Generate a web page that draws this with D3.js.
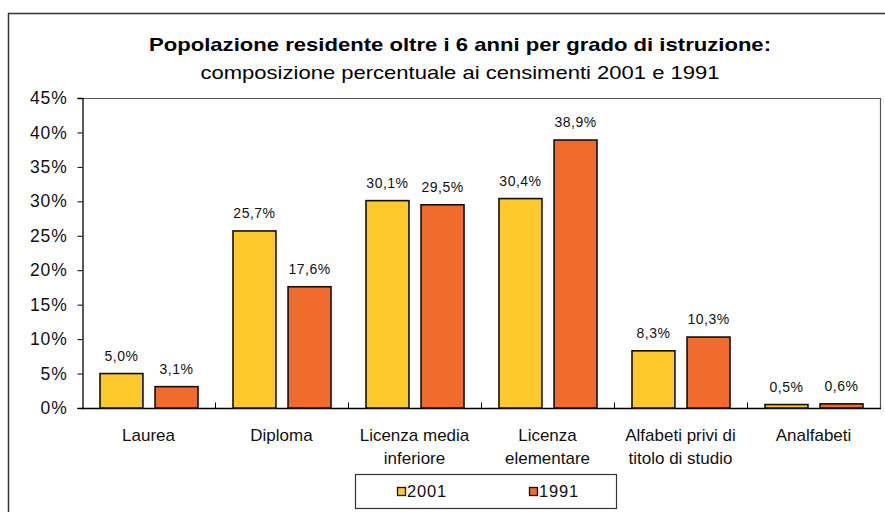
<!DOCTYPE html>
<html>
<head>
<meta charset="utf-8">
<script src="https://cdn.jsdelivr.net/npm/d3@7"></script>
<style>
body { margin:0; background:#fff; }
svg { font-family: "Liberation Sans", Arial, Helvetica, sans-serif; }
</style>
</head>
<body>
<svg id="graph"></svg>
<script>
// data
var categories = [["Laurea"], ["Diploma"], ["Licenza media", "inferiore"], ["Licenza", "elementare"], ["Alfabeti privi di", "titolo di studio"], ["Analfabeti"]]
var years = ["2001", "1991"]
var values2001 = [5.0, 25.7, 30.1, 30.4, 8.3, 0.5]
var values1991 = [3.1, 17.6, 29.5, 38.9, 10.3, 0.6]
var yTicks = [0, 5, 10, 15, 20, 25, 30, 35, 40, 45]
var colors = ["#FDC92C", "#F16B2E"]

var screen = {width:885, height:512}
var plot = {left:82, right:880, top:98, bottom:408}

var svg = d3.select("#graph")
    .attr("width", screen.width)
    .attr("height", screen.height)

// outer frame
svg.append("rect")
    .attr("x", 8.5).attr("y", 13.5)
    .attr("width", 1000).attr("height", 600)
    .attr("fill", "none")
    .attr("stroke", "#333")
    .attr("stroke-width", 1.5)

svg.append("text")
    .attr("x", 460).attr("y", 51)
    .attr("text-anchor", "middle")
    .attr("font-size", 19)
    .attr("font-weight", "bold")
    .attr("textLength", 622)
    .attr("lengthAdjust", "spacingAndGlyphs")
    .text("Popolazione residente oltre i 6 anni per grado di istruzione:")

svg.append("text")
    .attr("x", 460).attr("y", 79)
    .attr("text-anchor", "middle")
    .attr("font-size", 19)
    .attr("textLength", 519)
    .attr("lengthAdjust", "spacingAndGlyphs")
    .text("composizione percentuale ai censimenti 2001 e 1991")

var xscale = d3.scaleBand()
    .domain(d3.range(categories.length))
    .range([plot.left, plot.right])
    .paddingInner(0).paddingOuter(0)

var inner = d3.scaleBand()
    .domain(years)
    .range([18, xscale.bandwidth() - 17])
    .paddingInner(0.22)

var yscale = d3.scaleLinear()
    .domain([0, 45])
    .range([plot.bottom, plot.top])

// plot frame (top and right)
svg.append("path")
    .attr("d", "M" + plot.left + "," + (plot.top + 0.5) + "H" + (plot.right + 0.5) + "V" + plot.bottom)
    .attr("fill", "none")
    .attr("stroke", "#555")
    .attr("stroke-width", 1.2)

// y axis
var yAxis = svg.append("g")
    .attr("transform", "translate(" + (plot.left + 0.5) + ",0)")
    .call(d3.axisLeft(yscale).tickValues(yTicks).tickSize(5).tickPadding(10)
        .tickFormat(function(d){ return d + "%" }))
yAxis.select(".domain").attr("stroke", "#000").attr("stroke-width", 1.3)
yAxis.selectAll("line").attr("stroke", "#000")
yAxis.selectAll("text").attr("font-size", 17.5).attr("fill", "#111")
    .attr("letter-spacing", 0.8)
    .attr("font-family", "Liberation Sans, Arial, sans-serif")

// x axis with category separators pointing up
var xAxis = svg.append("g")
    .attr("transform", "translate(0," + (plot.bottom + 0.5) + ")")
var sepScale = d3.scaleLinear().domain([0, categories.length]).range([plot.left, plot.right])
xAxis.append("line")
    .attr("x1", plot.left).attr("x2", plot.right + 1)
    .attr("stroke", "#000").attr("stroke-width", 1.3)
xAxis.selectAll(".sep")
    .data(d3.range(1, categories.length))
    .enter().append("line")
    .attr("x1", function(d){ return sepScale(d) + 0.5 })
    .attr("x2", function(d){ return sepScale(d) + 0.5 })
    .attr("y1", -6).attr("y2", 0)
    .attr("stroke", "#000")

var series = [values2001, values1991]

var groups = svg.selectAll(".cat")
    .data(categories)
    .enter().append("g")
    .attr("transform", function(d, i){ return "translate(" + xscale(i) + ",0)" })

years.forEach(function(year, s)
{
    groups.append("rect")
        .attr("x", inner(year))
        .attr("y", function(d, i){ return yscale(series[s][i]) })
        .attr("width", inner.bandwidth())
        .attr("height", function(d, i){ return plot.bottom - yscale(series[s][i]) })
        .attr("fill", colors[s])
        .attr("stroke", "#111")
        .attr("stroke-width", 1.6)

    groups.append("text")
        .attr("x", inner(year) + inner.bandwidth() / 2)
        .attr("y", function(d, i){ return yscale(series[s][i]) - 13 })
        .attr("text-anchor", "middle")
        .attr("font-size", 14)
        .attr("letter-spacing", 0.5)
        .attr("fill", "#111")
        .text(function(d, i){ return series[s][i].toFixed(1).replace(".", ",") + "%" })
})

groups.append("text")
    .attr("text-anchor", "middle")
    .attr("font-size", 17)
    .attr("fill", "#111")
    .selectAll("tspan")
    .data(function(d){ return d })
    .enter().append("tspan")
    .attr("x", xscale.bandwidth() / 2)
    .attr("y", function(d, j){ return 441 + j * 22.5 })
    .text(function(d){ return d })

// legend
var legend = svg.append("g")
legend.append("rect")
    .attr("x", 355.5).attr("y", 474.5)
    .attr("width", 261).attr("height", 34)
    .attr("fill", "#fff")
    .attr("stroke", "#333")
    .attr("stroke-width", 1.2)
var legendX = [397, 529]
years.forEach(function(year, s)
{
    legend.append("rect")
        .attr("x", legendX[s] + 0.5).attr("y", 487.5)
        .attr("width", 8).attr("height", 8)
        .attr("fill", colors[s])
        .attr("stroke", "#111")
        .attr("stroke-width", 1.3)
    legend.append("text")
        .attr("x", legendX[s] + 10).attr("y", 497)
        .attr("font-size", 16.5)
        .attr("letter-spacing", 0.8)
        .attr("fill", "#111")
        .text(year)
})
</script>
</body>
</html>
